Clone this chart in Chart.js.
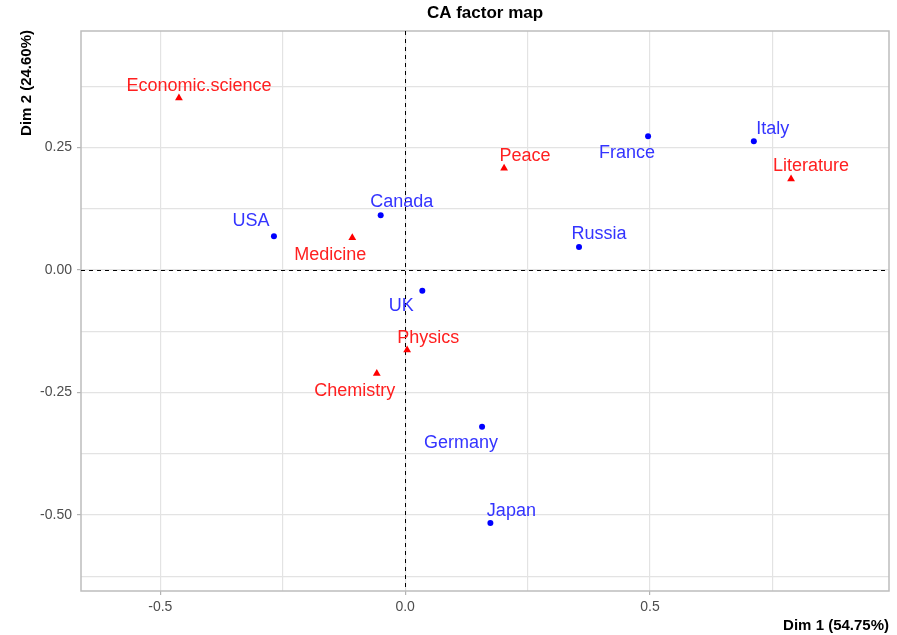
<!DOCTYPE html>
<html>
<head>
<meta charset="utf-8">
<script src="https://cdn.jsdelivr.net/npm/chart.js@4/dist/chart.umd.min.js"></script>
<style>
  html, body { margin: 0; padding: 0; background: #ffffff; }
  #wrap { width: 897px; height: 635px; position: relative; }
</style>
</head>
<body>
<div id="wrap"><canvas id="ca"></canvas></div>
<script>
// Row points (countries)
const rowNames = ["USA", "Canada", "UK", "France", "Italy", "Russia", "Germany", "Japan"];
const rowDim1  = [-0.268, -0.050, 0.035, 0.496, 0.712, 0.355, 0.157, 0.174];
const rowDim2  = [ 0.069,  0.112, -0.042, 0.273, 0.263, 0.047, -0.320, -0.516];

// Column points (prize categories)
const colNames = ["Economic.science", "Medicine", "Peace", "Literature", "Physics", "Chemistry"];
const colDim1  = [-0.462, -0.108, 0.202, 0.788, 0.004, -0.058];
const colDim2  = [ 0.351,  0.066, 0.208, 0.186, -0.163, -0.211];

// Axis ticks
const xTickLabels = [-0.5, 0, 0.5];
const yTickLabels = [-0.5, -0.25, 0, 0.25];

const FONT = "'Liberation Sans', Arial, sans-serif";

// Where each text label sits relative to its point (pixels)
const labelShift = {
  "USA": [-23, -15], "Canada": [21, -13], "UK": [-21, 15], "France": [-21, 17],
  "Italy": [19, -12], "Russia": [20, -13], "Germany": [-21, 16], "Japan": [21, -12],
  "Economic.science": [20, -12], "Medicine": [-22, 17], "Peace": [21, -12],
  "Literature": [20, -13], "Physics": [21, -12], "Chemistry": [-22, 18]
};

const rowData = rowNames.map((n, i) => ({ x: rowDim1[i], y: rowDim2[i], name: n }));
const colData = colNames.map((n, i) => ({ x: colDim1[i], y: colDim2[i], name: n }));

function near(a, b) { return Math.abs(a - b) < 1e-9; }

const decor = {
  id: 'decor',
  beforeDatasetsDraw(chart) {
    const { ctx, chartArea: a, scales: { x, y } } = chart;
    ctx.save();
    // panel border
    ctx.strokeStyle = '#BDBDBD';
    ctx.lineWidth = 1.5;
    ctx.strokeRect(a.left, a.top, a.right - a.left, a.bottom - a.top);
    // dashed reference lines through the origin
    ctx.strokeStyle = '#000000';
    ctx.lineWidth = 1;
    ctx.setLineDash([4, 4]);
    const x0 = Math.round(x.getPixelForValue(0)) + 0.5;
    const y0 = Math.round(y.getPixelForValue(0)) + 0.5;
    ctx.beginPath();
    ctx.moveTo(x0, a.top); ctx.lineTo(x0, a.bottom);
    ctx.moveTo(a.left, y0); ctx.lineTo(a.right, y0);
    ctx.stroke();
    ctx.restore();
  },
  afterDatasetsDraw(chart) {
    const { ctx } = chart;
    ctx.save();
    ctx.font = '18px ' + FONT;
    ctx.textAlign = 'center';
    ctx.textBaseline = 'middle';
    chart.data.datasets.forEach((ds, di) => {
      const meta = chart.getDatasetMeta(di);
      ctx.fillStyle = ds.labelColor;
      meta.data.forEach((pt, i) => {
        const name = ds.data[i].name;
        const s = labelShift[name] || [0, -12];
        ctx.fillText(name, pt.x + s[0], pt.y + s[1]);
      });
    });
    ctx.restore();
  },
  afterDraw(chart) {
    const { ctx, chartArea: a } = chart;
    ctx.save();
    ctx.fillStyle = '#000000';
    ctx.font = 'bold 17px ' + FONT;
    ctx.textAlign = 'center';
    ctx.textBaseline = 'middle';
    ctx.fillText('CA factor map', (a.left + a.right) / 2, 13);
    ctx.font = 'bold 15px ' + FONT;
    ctx.textAlign = 'right';
    ctx.fillText('Dim 1 (54.75%)', a.right, 626);
    ctx.translate(27, a.top - 1);
    ctx.rotate(-Math.PI / 2);
    ctx.textAlign = 'right';
    ctx.fillText('Dim 2 (24.60%)', 0, 0);
    ctx.restore();
  }
};

new Chart(document.getElementById('ca'), {
  type: 'scatter',
  data: {
    datasets: [
      {
        label: 'rows',
        data: rowData,
        pointStyle: 'circle',
        pointRadius: 3,
        pointHoverRadius: 3,
        backgroundColor: '#0000FF',
        borderColor: '#0000FF',
        borderWidth: 0,
        labelColor: '#3434FF'
      },
      {
        label: 'columns',
        data: colData,
        pointStyle: 'triangle',
        pointRadius: 4.5,
        pointHoverRadius: 4.5,
        backgroundColor: '#FF0000',
        borderColor: '#FF0000',
        borderWidth: 0,
        labelColor: '#FF2020'
      }
    ]
  },
  plugins: [decor],
  options: {
    responsive: true,
    maintainAspectRatio: false,
    animation: false,
    events: [],
    layout: { padding: { top: 31, right: 8, left: 0, bottom: 0 } },
    plugins: { legend: { display: false }, title: { display: false }, tooltip: { enabled: false } },
    scales: {
      x: {
        type: 'linear',
        min: -0.662,
        max: 0.988,
        afterFit(s) { s.height = 44; },
        afterBuildTicks(s) {
          const t = [];
          for (let v = -0.5; v <= 0.75 + 1e-9; v += 0.25) t.push({ value: Math.round(v * 100) / 100 });
          s.ticks = t;
        },
        border: { display: false },
        grid: {
          color: '#E3E3E3',
          lineWidth: 1.2,
          drawTicks: true,
          tickLength: 4,
          tickColor: (c) => xTickLabels.some(v => near(v, c.tick.value)) ? '#B3B3B3' : 'rgba(0,0,0,0)'
        },
        ticks: {
          autoSkip: false,
          maxRotation: 0,
          padding: 4,
          color: '#4D4D4D',
          font: { family: FONT, size: 14 },
          callback: (v) => {
            const m = xTickLabels.find(t => near(t, v));
            return m === undefined ? '' : m.toFixed(1);
          }
        }
      },
      y: {
        type: 'linear',
        min: -0.655,
        max: 0.488,
        afterFit(s) { s.width = 81; },
        afterBuildTicks(s) {
          const t = [];
          for (let v = -0.625; v <= 0.375 + 1e-9; v += 0.125) t.push({ value: Math.round(v * 1000) / 1000 });
          s.ticks = t;
        },
        border: { display: false },
        grid: {
          color: '#E3E3E3',
          lineWidth: 1.2,
          drawTicks: true,
          tickLength: 4,
          tickColor: (c) => yTickLabels.some(v => near(v, c.tick.value)) ? '#B3B3B3' : 'rgba(0,0,0,0)'
        },
        ticks: {
          autoSkip: false,
          padding: 5,
          color: '#4D4D4D',
          font: { family: FONT, size: 14 },
          callback: (v) => {
            const m = yTickLabels.find(t => near(t, v));
            return m === undefined ? '' : m.toFixed(2);
          }
        }
      }
    }
  }
});
</script>
</body>
</html>
